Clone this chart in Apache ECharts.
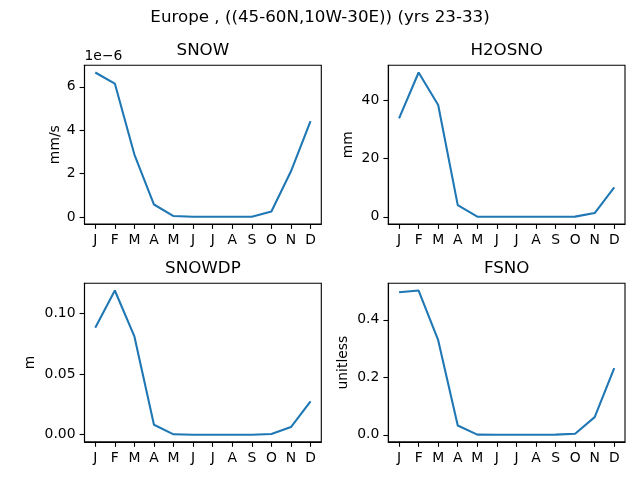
<!DOCTYPE html>
<html>
<head>
<meta charset="utf-8">
<script src="https://cdn.jsdelivr.net/npm/echarts@6/dist/echarts.min.js"></script>
<style>html,body{margin:0;padding:0;background:#fff}#c{width:640px;height:480px}</style>
</head>
<body>
<div id="c"></div>
<script>
const months = ['J','F','M','A','M','J','J','A','S','O','N','D'];
const snow   = [6.66e-6, 6.15e-6, 2.88e-6, 0.58e-6, 0.05e-6, 0.015e-6, 0.015e-6, 0.015e-6, 0.015e-6, 0.26e-6, 2.11e-6, 4.42e-6];
const h2osno = [33.9, 49.7, 38.5, 4.0, 0.05, 0.0, 0.0, 0.0, 0.0, 0.05, 1.3, 10.1];
const snowdp = [0.0879, 0.1186, 0.0808, 0.0082, 0.0003, 0.0, 0.0, 0.0, 0.0, 0.0005, 0.0063, 0.0274];
const fsno   = [0.496, 0.502, 0.329, 0.0325, 0.0005, 0.0003, 0.0003, 0.0003, 0.0005, 0.0035, 0.0615, 0.232];
const snowTicks   = [0, 2e-6, 4e-6, 6e-6];
const h2osnoTicks = [0, 20, 40];
const snowdpTicks = [0, 0.05, 0.10];
const fsnoTicks   = [0, 0.2, 0.4];
const titles = ['SNOW', 'H2OSNO', 'SNOWDP', 'FSNO'];
const units  = ['mm/s', 'mm', 'm', 'unitless'];
const suptitle = 'Europe , ((45-60N,10W-30E)) (yrs 23-33)';

const FONT = 'DejaVu Sans';
const C = '#1f77b4';
const grids = [
  {left: 84.5, top: 65.3, width: 236.8, height: 158.7},
  {left: 388.3, top: 65.3, width: 236.7, height: 158.7},
  {left: 84.5, top: 283.3, width: 236.8, height: 158.6},
  {left: 388.3, top: 283.3, width: 236.7, height: 158.6}
];
const series = [snow, h2osno, snowdp, fsno];
const ticks = [snowTicks, h2osnoTicks, snowdpTicks, fsnoTicks];
const fmts = [
  v => String(Math.round(v * 1e6)),
  v => String(Math.round(v)),
  v => v.toFixed(2),
  v => v.toFixed(1)
];
const nameGaps = [22, 33, 47, 38];

function pad(arr) {
  const mn = Math.min(...arr), mx = Math.max(...arr);
  const r = mx - mn;
  return [mn - 0.05 * r, mx + 0.05 * r];
}

const xAxes = [], yAxes = [], ser = [], graphic = [];
grids.forEach((g, i) => {
  xAxes.push({
    type: 'value', gridIndex: i, min: -0.55, max: 11.55,
    axisLine: {show: true, onZero: false, lineStyle: {color: '#000', width: 1.1}},
    axisTick: {show: true, length: 4.9, lineStyle: {color: '#000', width: 1.1}, customValues: months.map((m, k) => k)},
    axisLabel: {fontFamily: FONT, fontSize: 13.9, color: '#000', margin: 9,
      customValues: months.map((m, k) => k), formatter: v => months[Math.round(v)]},
    splitLine: {show: false}
  });
  const [mn, mx] = pad(series[i]);
  yAxes.push({
    type: 'value', gridIndex: i, min: mn, max: mx,
    name: units[i], nameLocation: 'middle', nameGap: nameGaps[i], nameRotate: 90,
    nameTextStyle: {fontFamily: FONT, fontSize: 13.9, color: '#000'},
    axisLine: {show: true, onZero: false, lineStyle: {color: '#000', width: 1.1}},
    axisTick: {show: true, length: 4.9, lineStyle: {color: '#000', width: 1.1}, customValues: ticks[i]},
    axisLabel: {fontFamily: FONT, fontSize: 13.9, color: '#000', margin: 9,
      customValues: ticks[i], formatter: fmts[i]},
    splitLine: {show: false}
  });
  ser.push({
    type: 'line', xAxisIndex: i, yAxisIndex: i,
    data: series[i].map((v, k) => [k, v]),
    showSymbol: false, symbol: 'none',
    lineStyle: {color: C, width: 2.08}, itemStyle: {color: C},
    animation: false, silent: true
  });
  graphic.push({type: 'rect', shape: {x: g.left, y: g.top, width: g.width, height: g.height},
    style: {fill: 'none', stroke: '#000', lineWidth: 1.1}, silent: true, z: 10});
  graphic.push({type: 'text', x: g.left + g.width / 2, y: g.top - 14.5,
    style: {text: titles[i], font: '16.7px "DejaVu Sans"', fill: '#000', align: 'center', verticalAlign: 'middle'}});
});
graphic.push({type: 'text', x: 320, y: 17.5,
  style: {text: suptitle, font: '16.7px "DejaVu Sans"', fill: '#000', align: 'center', verticalAlign: 'middle'}});
graphic.push({type: 'text', x: 84.5, y: 56.5,
  style: {text: '1e\u22126', font: '13.9px "DejaVu Sans"', fill: '#000', align: 'left', verticalAlign: 'middle'}});

const chart = echarts.init(document.getElementById('c'), null, {renderer: 'canvas'});
chart.setOption({
  animation: false,
  backgroundColor: '#fff',
  grid: grids.map(g => Object.assign({containLabel: false}, g)),
  xAxis: xAxes,
  yAxis: yAxes,
  series: ser,
  graphic: graphic
});
</script>
</body>
</html>
